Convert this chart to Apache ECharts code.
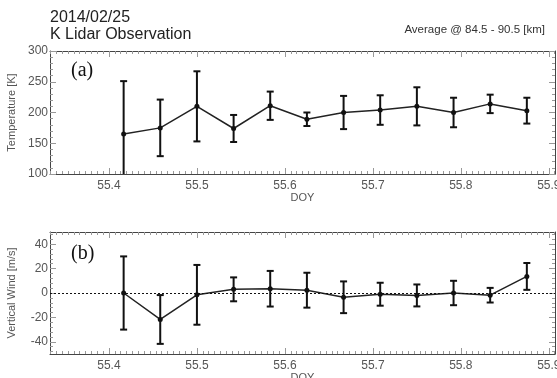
<!DOCTYPE html>
<html>
<head>
<meta charset="utf-8">
<script src="https://cdn.jsdelivr.net/npm/echarts@6/dist/echarts.min.js"></script>
<style>
  html, body { margin: 0; padding: 0; background: #fff; }
  #chart { width: 557px; height: 378px; }
</style>
</head>
<body>
<div id="chart"></div>
<script>
// hourly averages, DOY 55 (2014/02/25)
const doy = [55.4167, 55.4583, 55.5, 55.5417, 55.5833, 55.625, 55.6667, 55.7083, 55.75, 55.7917, 55.8333, 55.875];
const temp = [165, 175, 210, 174, 211, 189, 200, 204, 210, 200, 214, 203];
const tempErr = [86, 46, 57, 22, 23, 11, 27, 24, 31, 24, 15, 21];
const wind = [0, -21.7, -1.5, 3, 3.5, 2.3, -3.5, -1, -2, 0, -1.8, 13.6];
const windErr = [30, 20, 24.5, 9.8, 14.6, 14.3, 13, 9.4, 9, 10, 6, 11];
const xTicks = [55.4, 55.5, 55.6, 55.7, 55.8, 55.9];
const tempTicks = [100, 150, 200, 250, 300];
const windTicks = [-40, -20, 0, 20, 40];

const X_MIN = 55.333, X_MAX = 55.907;
const font = '"Liberation Sans", Arial, sans-serif';
const labelColor = '#555';

// minor tick positions
function steps(from, to, step) {
  const out = [];
  for (let v = from; v <= to + 1e-9; v += step) out.push(+v.toFixed(5));
  return out;
}
const xMinor = steps(55.4 - 10 * 0.1 / 15, X_MAX, 0.1 / 15).filter(v => v > X_MIN);
const tempMinor = steps(100, 300, 10);
const windMinor = steps(-48, 48, 4);

// one grid gets 4 axes per direction: main, main minor, opposite, opposite minor
function axes(dir, grid, min, max, major, minor, name, nameGap) {
  const sides = dir === 'x' ? ['bottom', 'top'] : ['left', 'right'];
  const list = [];
  sides.forEach((pos, s) => {
    [major, minor].forEach((ticks, m) => {
      list.push({
        type: 'value',
        gridIndex: grid,
        position: pos,
        min: min,
        max: max,
        name: s === 0 && m === 0 ? name : '',
        nameLocation: 'middle',
        nameGap: nameGap,
        nameTextStyle: { color: labelColor, fontFamily: font, fontSize: 11 },
        axisLine: { show: m === 0, onZero: false, lineStyle: { color: '#444', width: 1 } },
        axisTick: {
          show: true, inside: true, customValues: ticks,
          length: m === 0 ? 6 : 3,
          lineStyle: { color: '#999', width: 1 }
        },
        axisLabel: {
          show: s === 0 && m === 0,
          customValues: major,
          color: labelColor,
          fontFamily: font,
          fontSize: 12,
          margin: dir === 'x' ? 6 : 2
        },
        splitLine: { show: false }
      });
    });
  });
  return list;
}

function errBar(params, api) {
  const x = api.value(0);
  const top = api.coord([x, api.value(2)]);
  const bot = api.coord([x, api.value(1)]);
  const w = 3.5;
  const style = { stroke: '#111', lineWidth: 2 };
  return {
    type: 'group',
    children: [
      { type: 'line', shape: { x1: top[0], y1: top[1], x2: bot[0], y2: bot[1] }, style: style },
      { type: 'line', shape: { x1: top[0] - w, y1: top[1], x2: top[0] + w, y2: top[1] }, style: style },
      { type: 'line', shape: { x1: bot[0] - w, y1: bot[1], x2: bot[0] + w, y2: bot[1] }, style: style }
    ]
  };
}

const chart = echarts.init(document.getElementById('chart'));
chart.setOption({
  animation: false,
  grid: [
    { left: 50, top: 51, width: 505, height: 123, outerBoundsMode: 'none', containLabel: false },
    { left: 50, top: 232, width: 505, height: 122, outerBoundsMode: 'none', containLabel: false }
  ],
  xAxis: [
    ...axes('x', 0, X_MIN, X_MAX, xTicks, xMinor, 'DOY', 16),
    ...axes('x', 1, X_MIN, X_MAX, xTicks, xMinor, 'DOY', 16)
  ],
  yAxis: [
    ...axes('y', 0, 100, 300, tempTicks, tempMinor, 'Temperature [K]', 33),
    ...axes('y', 1, -50, 50, windTicks, windMinor, 'Vertical Wind [m/s]', 33)
  ],
  graphic: [
    { type: 'text', left: 50, top: 10, style: { text: '2014/02/25', font: '16px ' + font, fill: '#222' } },
    { type: 'text', left: 50, top: 27, style: { text: 'K Lidar Observation', font: '16px ' + font, fill: '#222' } },
    { type: 'text', right: 12, top: 24, style: { text: 'Average @ 84.5 - 90.5 [km]', font: '11.5px ' + font, fill: '#333' } },
    { type: 'text', left: 71, top: 61, style: { text: '(a)', font: '20px "Liberation Serif", "Times New Roman", serif', fill: '#111' } },
    { type: 'text', left: 71, top: 244, style: { text: '(b)', font: '20px "Liberation Serif", "Times New Roman", serif', fill: '#111' } }
  ],
  series: [
    {
      type: 'custom',
      xAxisIndex: 0, yAxisIndex: 0,
      clip: true,
      renderItem: errBar,
      encode: { x: 0, y: [1, 2] },
      data: doy.map((d, i) => [d, temp[i] - tempErr[i], temp[i] + tempErr[i]]),
      z: 2
    },
    {
      type: 'line',
      xAxisIndex: 0, yAxisIndex: 0,
      data: doy.map((d, i) => [d, temp[i]]),
      symbol: 'circle', symbolSize: 5,
      itemStyle: { color: '#111' },
      lineStyle: { color: '#222', width: 1.5 },
      z: 3
    },
    {
      type: 'custom',
      xAxisIndex: 4, yAxisIndex: 4,
      clip: true,
      renderItem: errBar,
      encode: { x: 0, y: [1, 2] },
      data: doy.map((d, i) => [d, wind[i] - windErr[i], wind[i] + windErr[i]]),
      z: 2
    },
    {
      type: 'line',
      xAxisIndex: 4, yAxisIndex: 4,
      data: doy.map((d, i) => [d, wind[i]]),
      symbol: 'circle', symbolSize: 5,
      itemStyle: { color: '#111' },
      lineStyle: { color: '#222', width: 1.5 },
      markLine: {
        silent: true,
        symbol: 'none',
        label: { show: false },
        lineStyle: { color: '#111', type: [2, 2], width: 1.2 },
        data: [{ yAxis: 0 }]
      },
      z: 3
    }
  ]
});
</script>
</body>
</html>
